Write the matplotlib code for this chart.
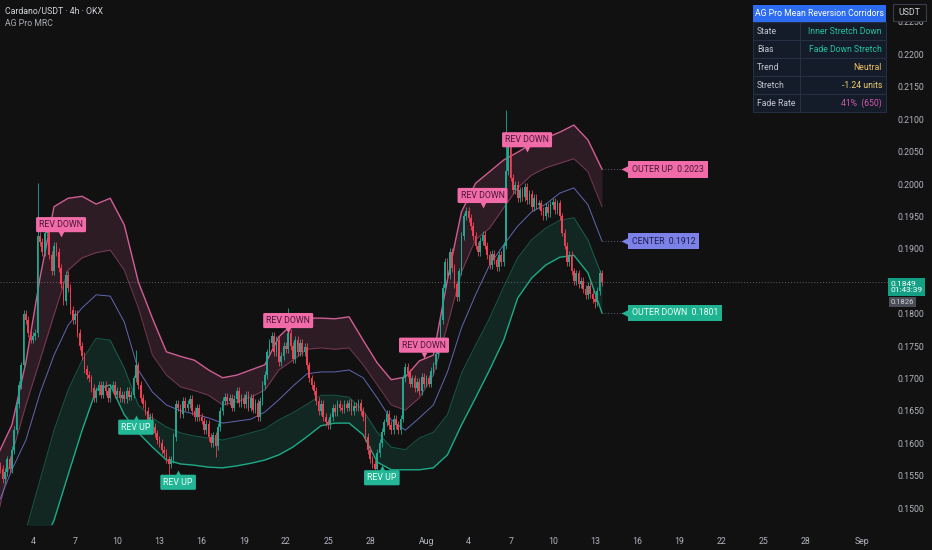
import numpy as np
import matplotlib
matplotlib.use("Agg")
import matplotlib.pyplot as plt
from matplotlib import transforms
from matplotlib.patches import Rectangle

plt.rcParams['font.family'] = ['Roboto', 'DejaVu Sans']

# ---- DATA ----
# 4h closes, first bar = Jul 1 16:00 (bar index 4 counted from Jul 1 00:00)
first_bar = 4
first_open = 0.1565
closes = [
    0.1560, 0.1545,
    0.1555, 0.1575, 0.1560, 0.1590, 0.1620, 0.1660,
    0.1690, 0.1720, 0.1800, 0.1790, 0.1770, 0.1760,
    0.1765, 0.1770, 0.1920, 0.1910, 0.1895, 0.1925,
    0.1930, 0.1890, 0.1865, 0.1905, 0.1895, 0.1870,
    0.1845, 0.1820, 0.1860, 0.1840, 0.1805, 0.1790,
    0.1800, 0.1770, 0.1750, 0.1735, 0.1715, 0.1705,
    0.1700, 0.1685, 0.1670, 0.1680, 0.1690, 0.1675,
    0.1690, 0.1680, 0.1670, 0.1685, 0.1690, 0.1675,
    0.1680, 0.1670, 0.1675, 0.1668, 0.1680, 0.1672,
    0.1675, 0.1700, 0.1720, 0.1690, 0.1670, 0.1660,
    0.1650, 0.1635, 0.1640, 0.1625, 0.1615, 0.1605,
    0.1600, 0.1590, 0.1585, 0.1575, 0.1568, 0.1575,
    0.1610, 0.1660, 0.1655, 0.1645, 0.1665, 0.1655,
    0.1660, 0.1668, 0.1650, 0.1640, 0.1655, 0.1640,
    0.1635, 0.1620, 0.1630, 0.1610, 0.1600, 0.1612,
    0.1595, 0.1625, 0.1650, 0.1665, 0.1672, 0.1665,
    0.1670, 0.1655, 0.1668, 0.1680, 0.1662, 0.1670,
    0.1660, 0.1675, 0.1655, 0.1670, 0.1652, 0.1662,
    0.1640, 0.1665, 0.1690, 0.1705, 0.1740, 0.1755,
    0.1765, 0.1740, 0.1760, 0.1725, 0.1735, 0.1750,
    0.1745, 0.1770, 0.1750, 0.1730, 0.1760, 0.1740,
    0.1755, 0.1740, 0.1748, 0.1720, 0.1700, 0.1690,
    0.1680, 0.1665, 0.1650, 0.1660, 0.1640, 0.1632,
    0.1628, 0.1640, 0.1655, 0.1648, 0.1660, 0.1655,
    0.1652, 0.1660, 0.1655, 0.1662, 0.1650, 0.1658,
    0.1655, 0.1662, 0.1650, 0.1640, 0.1610, 0.1590,
    0.1575, 0.1568, 0.1560, 0.1585, 0.1600, 0.1618,
    0.1632, 0.1645, 0.1628, 0.1620, 0.1638, 0.1628,
    0.1620, 0.1638, 0.1700, 0.1718, 0.1708, 0.1692,
    0.1700, 0.1685, 0.1695, 0.1680, 0.1702, 0.1692,
    0.1700, 0.1692, 0.1712, 0.1720, 0.1738, 0.1750,
    0.1790, 0.1840, 0.1880, 0.1860, 0.1895, 0.1870,
    0.1845, 0.1825, 0.1865, 0.1920, 0.1950, 0.1958,
    0.1948, 0.1935, 0.1920, 0.1905, 0.1895, 0.1912,
    0.1922, 0.1905, 0.1890, 0.1875, 0.1892, 0.1882,
    0.1872, 0.1890, 0.1880, 0.1905, 0.2020, 0.2060,
    0.2010, 0.1990, 0.1998, 0.1978, 0.1990, 0.1980,
    0.1995, 0.1975, 0.1985, 0.1965, 0.1978, 0.1968,
    0.1970, 0.1958, 0.1950, 0.1965, 0.1955, 0.1968,
    0.1972, 0.1960, 0.1970, 0.1950, 0.1925, 0.1905,
    0.1880, 0.1890, 0.1865, 0.1850, 0.1862, 0.1845,
    0.1850, 0.1838, 0.1828, 0.1842, 0.1830, 0.1822,
    0.1818, 0.1835, 0.1862, 0.1849,
]
wick = 0.0006
wick_high = {20: 0.2002, 62: 0.1744, 127: 0.1809, 220: 0.2114}
wick_low = {76: 0.1551, 96: 0.1579, 164: 0.1546, 258: 0.1809}

# MRC corridors, one reading per day (noon), Jul 1 .. Aug 13
outer_up = [0.1582, 0.1628, 0.1725, 0.1855, 0.1965, 0.1978, 0.1981, 0.1969, 0.1978, 0.1937,
            0.1849, 0.1793, 0.1741, 0.1734, 0.1728, 0.1713, 0.1701, 0.1705, 0.1713, 0.1721,
            0.1764, 0.1785, 0.1793, 0.1793, 0.1792, 0.1795, 0.1759, 0.1724, 0.1698, 0.1702,
            0.1727, 0.1736, 0.1852, 0.1957, 0.2001, 0.2019, 0.2037, 0.2049, 0.2062, 0.2071,
            0.2080, 0.2091, 0.2068, 0.2023]
inner_up = [0.1489, 0.1582, 0.1659, 0.1728, 0.1798, 0.1867, 0.1886, 0.1894, 0.1898, 0.1867,
            0.1809, 0.1736, 0.1705, 0.1687, 0.1681, 0.1674, 0.1659, 0.1664, 0.1671, 0.1682,
            0.1713, 0.1728, 0.1745, 0.1747, 0.1745, 0.1747, 0.1721, 0.1690, 0.1659, 0.1651,
            0.1670, 0.1705, 0.1782, 0.1864, 0.1914, 0.1932, 0.1963, 0.1994, 0.2014, 0.2025,
            0.2032, 0.2039, 0.2019, 0.1965]
center = [0.1505, 0.1559, 0.1605, 0.1677, 0.1736, 0.1782, 0.1809, 0.1829, 0.1827, 0.1787,
          0.1713, 0.1679, 0.1659, 0.1650, 0.1645, 0.1639, 0.1631, 0.1634, 0.1637, 0.1648,
          0.1667, 0.1688, 0.1707, 0.1710, 0.1710, 0.1713, 0.1701, 0.1670, 0.1636, 0.1620,
          0.1639, 0.1659, 0.1710, 0.1778, 0.1829, 0.1875, 0.1906, 0.1935, 0.1957, 0.1969,
          0.1986, 0.1994, 0.1968, 0.1912]
inner_down = [0.1389, 0.1428, 0.1466, 0.1543, 0.1620, 0.1682, 0.1728, 0.1762, 0.1759, 0.1716,
              0.1659, 0.1639, 0.1625, 0.1616, 0.1611, 0.1608, 0.1605, 0.1610, 0.1616, 0.1622,
              0.1636, 0.1647, 0.1660, 0.1674, 0.1674, 0.1671, 0.1651, 0.1617, 0.1594, 0.1590,
              0.1608, 0.1617, 0.1644, 0.1708, 0.1751, 0.1793, 0.1841, 0.1886, 0.1914, 0.1932,
              0.1944, 0.1948, 0.1914, 0.1858]
outer_down = [0.1296, 0.1343, 0.1389, 0.1435, 0.1481, 0.1551, 0.1620, 0.1682, 0.1690, 0.1644,
              0.1616, 0.1594, 0.1574, 0.1568, 0.1566, 0.1563, 0.1562, 0.1565, 0.1569, 0.1574,
              0.1582, 0.1594, 0.1610, 0.1627, 0.1631, 0.1631, 0.1613, 0.1571, 0.1559, 0.1559,
              0.1559, 0.1562, 0.1582, 0.1628, 0.1670, 0.1713, 0.1759, 0.1824, 0.1855, 0.1875,
              0.1887, 0.1890, 0.1863, 0.1801]

# reversal signals: (bar index, anchor price)
rev_down = [(30, 0.1918), (127, 0.1770), (185, 0.1732), (210, 0.1963), (229, 0.2049)]
rev_up = [(62, 0.1644), (80, 0.1559), (167, 0.1566)]

# x axis ticks (days from Jul 1)
tick_days = [3, 6, 9, 12, 15, 18, 21, 24, 27, 31, 34, 37, 40, 43, 46, 49, 52, 55, 58, 62]
tick_labels = ['4', '7', '10', '13', '16', '19', '22', '25', '28', 'Aug',
               '4', '7', '10', '13', '16', '19', '22', '25', '28', 'Sep']

prev_tag = 0.1826
countdown = '01:43:39'

table_title = 'AG Pro Mean Reversion Corridors'
table_keys = ['State', 'Bias', 'Trend', 'Stretch', 'Fade Rate']
table_vals = ['Inner Stretch Down', 'Fade Down Stretch', 'Neutral', '-1.24 units', '41%  (650)']

# ---- STYLE ----
BG = '#111111'
GREEN = '#1fa88f'
RED = '#ef4056'
PINK = '#f06ba8'
BLUE = '#7d82e8'
TEAL = '#20c199'
TXT = '#b2b5be'
W, H = 932, 550

fig = plt.figure(figsize=(W / 100, H / 100), dpi=100, facecolor=BG)
ax = fig.add_axes([0, 1 - 525 / H, 888 / W, 525 / H], facecolor=BG)

# candles
c = np.array(closes)
o = np.r_[first_open, c[:-1]]
hi = np.maximum(o, c) + wick
lo = np.minimum(o, c) - wick
bars = first_bar + np.arange(len(c))
for b, v in wick_high.items():
    hi[b - first_bar] = v
for b, v in wick_low.items():
    lo[b - first_bar] = v
x = bars / 6.0
col = np.where(c >= o, GREEN, RED)
ax.vlines(x, lo, hi, colors=col, lw=0.6, zorder=4)
body = np.maximum(np.abs(c - o), 0.00008)
ax.bar(x, body, bottom=np.minimum(o, c), width=0.12, color=col, lw=0, zorder=5)

# corridors
band_days = np.arange(len(center)) + 0.5
ax.fill_between(band_days, outer_up, inner_up, color=PINK, alpha=0.13, lw=0, zorder=2)
ax.fill_between(band_days, inner_down, outer_down, color=TEAL, alpha=0.13, lw=0, zorder=2)
ax.plot(band_days, outer_up, color=PINK, lw=1.0, alpha=0.85, zorder=3)
ax.plot(band_days, inner_up, color=PINK, lw=0.7, alpha=0.4, zorder=3)
ax.plot(band_days, center, color=BLUE, lw=0.7, alpha=0.75, zorder=3)
ax.plot(band_days, inner_down, color=TEAL, lw=0.7, alpha=0.4, zorder=3)
ax.plot(band_days, outer_down, color=TEAL, lw=1.0, alpha=0.85, zorder=3)

# last price line
last = closes[-1]
ax.axhline(last, color='#5d606b', lw=0.7, ls=(0, (1, 2)), zorder=1)

# signal labels
for b, p in rev_down:
    tr = transforms.offset_copy(ax.transData, fig=fig, y=3, units='dots')
    ax.plot(b / 6, p, marker='v', ms=5, color=PINK, mec='none', transform=tr, zorder=7)
    ax.annotate('REV DOWN', (b / 6, p), xytext=(0, 8), textcoords='offset pixels',
                ha='center', va='bottom', fontsize=6.3, color='#4a1836', zorder=8,
                bbox=dict(boxstyle='round,pad=0.35,rounding_size=0.15', fc=PINK, ec='none'))
for b, p in rev_up:
    tr = transforms.offset_copy(ax.transData, fig=fig, y=-3, units='dots')
    ax.plot(b / 6, p, marker='^', ms=5, color='#22b596', mec='none', transform=tr, zorder=7)
    ax.annotate('REV UP', (b / 6, p), xytext=(0, -8), textcoords='offset pixels',
                ha='center', va='top', fontsize=6.3, color='#eafff8', zorder=8,
                bbox=dict(boxstyle='round,pad=0.35,rounding_size=0.15', fc='#22b596', ec='none'))

# end-of-band labels
last_day = bars[-1] / 6.0
lab_day = last_day + 8 / 6.0
band_labels = [('OUTER UP', outer_up[-1], PINK, '#4a1836'),
               ('CENTER', center[-1], BLUE, '#1a1d4a'),
               ('OUTER DOWN', outer_down[-1], '#1fb391', '#eafff8')]
for name, val, fc, tc in band_labels:
    ax.plot([last_day, lab_day], [val, val], color='#5d606b', lw=0.7, ls=(0, (1, 2)), zorder=3)
    tr = transforms.offset_copy(ax.transData, fig=fig, x=5, units='dots')
    ax.plot(lab_day, val, marker='<', ms=7, color=fc, mec='none', transform=tr, zorder=7)
    ax.annotate(f'{name}  {val:.4f}', (lab_day, val), xytext=(11, 0), textcoords='offset pixels',
                ha='left', va='center', fontsize=6.3, color=tc, zorder=8,
                bbox=dict(boxstyle='square,pad=0.45', fc=fc, ec='none'))

# axes
ax.set_xlim(9.2 / 14.05, 897.2 / 14.05)
ax.set_ylim(0.147377, 0.228395)
ax.yaxis.tick_right()
yt = np.arange(0.150, 0.2251, 0.005)
ax.set_yticks(yt)
# the scale label under the live price tag is covered, as on the platform
ax.set_yticklabels(['' if abs(v - last) < 0.0012 else f'{v:.4f}' for v in yt])
ax.set_xticks(tick_days)
ax.set_xticklabels(tick_labels)
ax.tick_params(axis='both', length=0, colors=TXT, labelsize=6.3)
ax.tick_params(axis='y', pad=7)
ax.tick_params(axis='x', pad=9)
for s in ax.spines.values():
    s.set_visible(False)

# price tags on axis (grey tag peeks out just under the live tag)
yt_tr = ax.get_yaxis_transform()
tag_off = transforms.offset_copy(yt_tr, fig=fig, y=-20, units='dots')
ax.text(1.003, last, f'{prev_tag:.4f}', transform=tag_off, fontsize=5.5, color='#d1d4dc',
        ha='left', va='center', clip_on=False, zorder=9,
        bbox=dict(boxstyle='square,pad=0.25', fc='#4a4d55', ec='none'))
ax.text(1.003, last - 0.0008, f'{last:.4f}\n{countdown}', transform=yt_tr, fontsize=6, color='white',
        ha='left', va='center', linespacing=1.15, clip_on=False, zorder=10,
        bbox=dict(boxstyle='square,pad=0.3', fc='#14a085', ec='none'))


def fx(px):
    return px / W


def fy(py):
    return 1 - py / H


# USDT box
fig.patches.append(Rectangle((fx(893), fy(21)), 33 / W, 17 / H, transform=fig.transFigure,
                             fc=BG, ec='#3a3d45', lw=0.8, zorder=10))
fig.text(fx(909.5), fy(12.5), 'USDT', fontsize=6.3, color='#d1d4dc', ha='center', va='center', zorder=11)

# title
fig.text(fx(5), fy(11), 'Cardano/USDT · 4h · OKX', fontsize=6.3, color='#d1d4dc', ha='left', va='center')
fig.text(fx(5), fy(24), 'AG Pro MRC', fontsize=6.3, color='#a8abb3', ha='left', va='center')

# info table
tx0, txm, tx1 = 753, 800, 886
fig.patches.append(Rectangle((fx(tx0), fy(22)), (tx1 - tx0) / W, 17 / H, transform=fig.transFigure,
                             fc='#2c6cf0', ec='none', zorder=10))
fig.text(fx((tx0 + tx1) / 2), fy(13.5), table_title, fontsize=6.2, color='white',
         ha='center', va='center', zorder=11)
val_colors = ['#22c3a0', '#22c3a0', '#f0c060', '#f0d070', '#d45aa8']
for i, (k, v) in enumerate(zip(table_keys, table_vals)):
    top = 22 + i * 18
    for a, b in [(tx0, txm), (txm, tx1)]:
        fig.patches.append(Rectangle((fx(a), fy(top + 18)), (b - a) / W, 18 / H,
                                     transform=fig.transFigure, fc='#141b29', ec='#2b3447',
                                     lw=0.6, zorder=10))
    fig.text(fx(tx0 + 4), fy(top + 9), k, fontsize=6.2, color='#c3c6cf', ha='left', va='center', zorder=11)
    fig.text(fx(tx1 - 4), fy(top + 9), v, fontsize=6.2, color=val_colors[i], ha='right', va='center', zorder=11)

fig.savefig('out.png', dpi=100, facecolor=BG)
